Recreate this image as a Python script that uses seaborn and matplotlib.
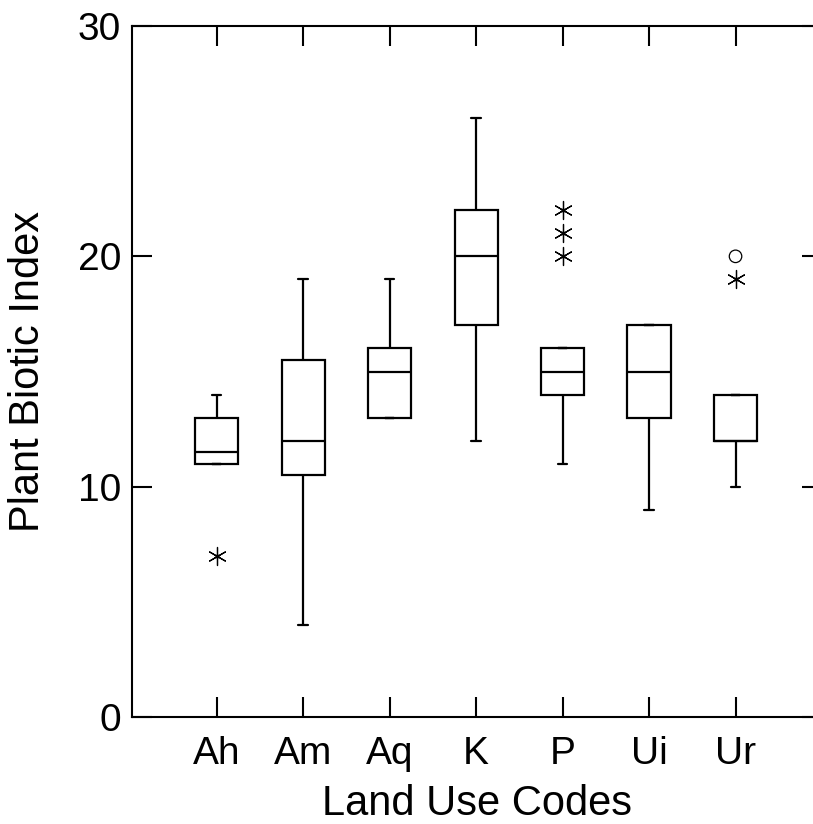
import numpy as np
import pandas as pd
import matplotlib
matplotlib.use("Agg")
import matplotlib.pyplot as plt
import seaborn as sns

# ---- data (five-number summaries per land-use code) ----
codes = ["Ah", "Am", "Aq", "K", "P", "Ui", "Ur"]
whisker_low = [11, 4, 13, 12, 11, 9, 10]
q1 = [11, 10.5, 13, 17, 14, 13, 12]
median = [11.5, 12, 15, 20, 15, 15, 12]
q3 = [13, 15.5, 16, 22, 16, 17, 14]
whisker_high = [14, 19, 19, 26, 16, 17, 14]

# outside values (asterisks) and far outside values (circles)
star_codes = ["Ah", "P", "P", "P", "Ur"]
star_values = [7, 20, 21, 22, 19]
circle_codes = ["Ur"]
circle_values = [20]

yticks = [0, 10, 20, 30]
xlabel = "Land Use Codes"
ylabel = "Plant Biotic Index"

# ---- long-form table: five values per group reproduce the summary exactly ----
rows = []
for c, a, b, m, d, e in zip(codes, whisker_low, q1, median, q3, whisker_high):
    for v in (a, b, m, d, e):
        rows.append({"code": c, "value": v})
df = pd.DataFrame(rows)
df_star = pd.DataFrame({"code": star_codes, "value": star_values})
df_circ = pd.DataFrame({"code": circle_codes, "value": circle_values})

sns.set_style("ticks")
plt.rcParams["font.family"] = ["Liberation Sans", "DejaVu Sans"]

W, H = 813, 824
fig = plt.figure(figsize=(W / 100, H / 100), dpi=100)
left, right, bottom, top = 132, 822, 107, 798
ax = fig.add_axes([left / W, bottom / H, (right - left) / W, (top - bottom) / H])

sns.boxplot(data=df, x="code", y="value", order=codes, whis=(0, 100),
            width=0.5, color="white", linecolor="black", linewidth=1.6,
            showfliers=False, ax=ax)

# shorten caps to SYSTAT-like small ticks
for ln in ax.lines:
    xd = np.asarray(ln.get_xdata(), dtype=float)
    yd = np.asarray(ln.get_ydata(), dtype=float)
    if len(xd) == 2 and yd[0] == yd[1]:
        w = abs(xd[1] - xd[0])
        if w < 0.45:
            cx = xd.mean()
            ln.set_xdata([cx - 0.055, cx + 0.055])

sns.stripplot(data=df_star, x="code", y="value", order=codes, jitter=False,
              marker=(6, 2, 0), s=13, color="black", edgecolor="black",
              linewidth=0.9, ax=ax)
# small dot at the centre of each asterisk
sns.stripplot(data=df_star, x="code", y="value", order=codes, jitter=False,
              marker="o", s=3, color="black", linewidth=0, ax=ax)
n_before = len(ax.collections)
sns.stripplot(data=df_circ, x="code", y="value", order=codes, jitter=False,
              marker="o", s=9, color="black", linewidth=0.9, ax=ax)
for coll in ax.collections[n_before:]:
    coll.set_facecolor("none")
    coll.set_edgecolor("black")
    coll.set_linewidth(0.9)

ax.set_xlim(-0.98, 7.0)
ax.set_ylim(0, 30)
ax.set_yticks(yticks)
ax.set_yticklabels([str(t) for t in yticks])

for sp in ax.spines.values():
    sp.set_linewidth(1.5)
    sp.set_color("black")

ax.tick_params(axis="both", direction="in", length=14.5, width=1.5,
               top=True, right=True, labeltop=False, labelright=False,
               labelsize=28, colors="black")
ax.tick_params(axis="x", pad=13.5)
ax.tick_params(axis="y", pad=8)

ax.set_xlabel(xlabel, fontsize=30, labelpad=8.5, color="black")
ax.set_ylabel(ylabel, fontsize=30, labelpad=21, color="black")

fig.savefig("out.png", dpi=100, facecolor="white")
